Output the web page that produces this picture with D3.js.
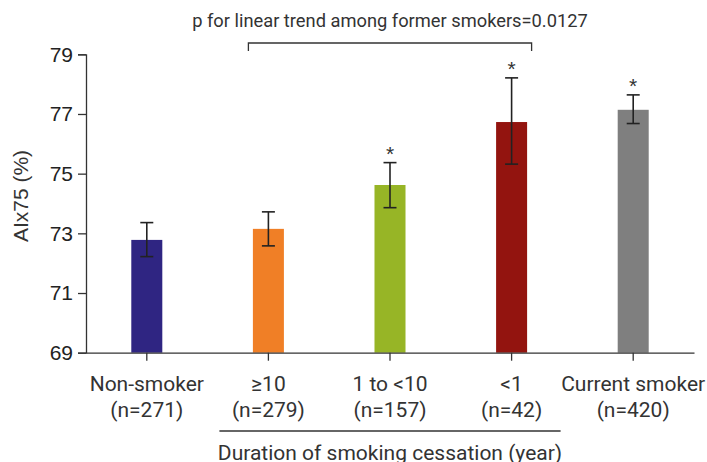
<!DOCTYPE html>
<html><head><meta charset="utf-8">
<script src="https://cdn.jsdelivr.net/npm/d3@7"></script>
<style>body{margin:0;background:#fff}svg{display:block}</style>
</head><body>
<svg id="c" width="707" height="462"></svg>
<script>
const categories = ["Non-smoker","≥10","1 to <10","<1","Current smoker"];
const nLabels = ["(n=271)","(n=279)","(n=157)","(n=42)","(n=420)"];
const means = [72.78, 73.15, 74.62, 76.73, 77.14];
const upper = [73.36, 73.72, 75.37, 78.21, 77.64];
const lower = [72.22, 72.58, 73.86, 75.32, 76.68];
const significant = [false, false, true, true, true];
const colors = ["#2f2582","#f07f26","#97b526","#93140f","#7f7f7f"];
const yTicks = [69,71,73,75,77,79];

const svg = d3.select("#c");
const x = d3.scaleBand().domain(categories).range([86,694]).paddingInner(0.745).paddingOuter(0.3725);
const y = d3.scaleLinear().domain([69,79]).range([352.7,54.3]);
const cx = c => x(c) + x.bandwidth()/2;
const af = "Liberation Sans, Arial, sans-serif";
const lf = "Roboto, 'Noto Sans', sans-serif";

// bars
svg.selectAll("rect.bar").data(categories).join("rect")
  .attr("x", d => x(d)).attr("width", x.bandwidth())
  .attr("y", (d,i) => y(means[i])).attr("height", (d,i) => y(69) - y(means[i]))
  .attr("fill", (d,i) => colors[i]);

// error bars
const eg = svg.append("g").attr("stroke","#222").attr("stroke-width",1.6);
categories.forEach((c,i) => {
  eg.append("line").attr("x1",cx(c)).attr("x2",cx(c)).attr("y1",y(upper[i])).attr("y2",y(lower[i]));
  eg.append("line").attr("x1",cx(c)-6.5).attr("x2",cx(c)+6.5).attr("y1",y(upper[i])).attr("y2",y(upper[i]));
  eg.append("line").attr("x1",cx(c)-6.5).attr("x2",cx(c)+6.5).attr("y1",y(lower[i])).attr("y2",y(lower[i]));
  if (significant[i]) {
    svg.append("text").attr("x",cx(c)).attr("y",y(upper[i])-2).attr("text-anchor","middle")
      .attr("font-family",af).attr("font-size",21).attr("fill","#333").text("*");
  }
});

// y axis
const ya = svg.append("g").attr("transform","translate(86,0)")
  .call(d3.axisLeft(y).tickValues(yTicks).tickSize(8).tickPadding(5));
ya.select(".domain").attr("stroke","#333").attr("stroke-width",1.3);
ya.selectAll(".tick line").attr("stroke","#333").attr("stroke-width",1.3);
ya.selectAll(".tick text").attr("font-family",af).attr("font-size",21).attr("fill","#222");

// x axis
const xa = svg.append("g").attr("transform","translate(0,352.7)")
  .call(d3.axisBottom(x).tickSize(8).tickSizeOuter(0).tickFormat(""));
xa.select(".domain").attr("stroke","#333").attr("stroke-width",1.3);
xa.selectAll(".tick line").attr("stroke","#333").attr("stroke-width",1.3);

svg.selectAll("text.cat").data(categories).join("text").attr("class","cat")
  .attr("x", d => cx(d)).attr("y", 391).attr("text-anchor","middle")
  .attr("font-family", lf).attr("font-size",21).attr("fill","#333").text(d => d);
svg.selectAll("text.n").data(nLabels).join("text").attr("class","n")
  .attr("x", (d,i) => cx(categories[i])).attr("y", 417).attr("text-anchor","middle")
  .attr("font-family", lf).attr("font-size",21).attr("fill","#333").text(d => d);

// y title
svg.append("text").attr("transform","translate(28,196) rotate(-90)").attr("text-anchor","middle")
  .attr("font-family",af).attr("font-size",21).attr("fill","#333").text("AIx75 (%)");

// underline group
svg.append("line").attr("x1",cx(categories[1])-49).attr("x2",cx(categories[3])+49)
  .attr("y1",431).attr("y2",431).attr("stroke","#333").attr("stroke-width",1.3);
svg.append("text").attr("x",(cx(categories[1])+cx(categories[3]))/2 ).attr("y",460).attr("text-anchor","middle")
  .attr("font-family", lf).attr("font-size",21).attr("fill","#333").text("Duration of smoking cessation (year)");

// bracket
const bx1 = cx(categories[1])-20, bx2 = cx(categories[3])+20;
svg.append("path").attr("d",`M${bx1},51V43H${bx2}V51`).attr("fill","none").attr("stroke","#333").attr("stroke-width",1.3);
svg.append("text").attr("x",(bx1+bx2)/2).attr("y",27).attr("text-anchor","middle")
  .attr("font-family", lf).attr("font-size",18.3).attr("fill","#333").text("p for linear trend among former smokers=0.0127");
</script>
</body></html>
